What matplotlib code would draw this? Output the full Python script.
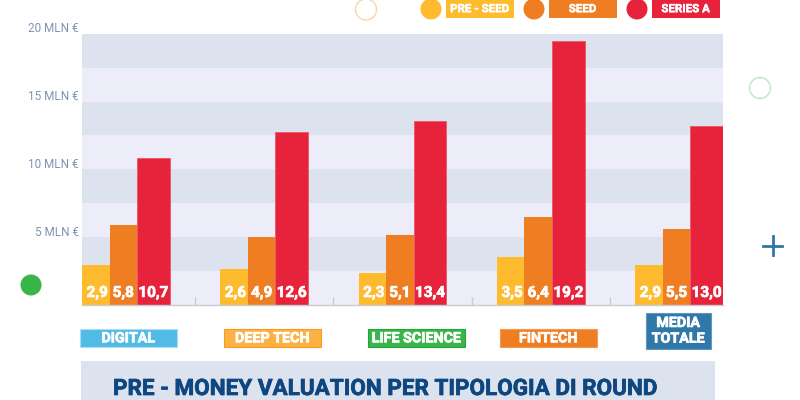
import matplotlib
matplotlib.use("Agg")
import matplotlib.pyplot as plt
from matplotlib.patches import Rectangle, Circle
import matplotlib.patheffects as pe

categories = ["DIGITAL", "DEEP TECH", "LIFE SCIENCE", "FINTECH", "MEDIA\nTOTALE"]
series_names = ["PRE - SEED", "SEED", "SERIES A"]
pre_seed = [2.9, 2.6, 2.3, 3.5, 2.9]
seed = [5.8, 4.9, 5.1, 6.4, 5.5]
series_a = [10.7, 12.6, 13.4, 19.2, 13.0]
y_ticks = [5, 10, 15, 20]
title = "PRE - MONEY VALUATION PER TIPOLOGIA DI ROUND"

RED, ORANGE, YELLOW = "#e6233a", "#ef7d22", "#fdbb2d"
DARK_BAND, LIGHT_BAND = "#dce3ee", "#ecedf8"
cat_colors = ["#50bbe5", "#fdb145", "#3ab54a", "#ef7d22", "#2f78a8"]
cat_edges = ["#a9def5", "#fb9a1f", "#1fa53a", "#f49a55", "#5f97bd"]
W, H = 800, 400
heavy_w = [pe.withStroke(linewidth=0.5, foreground="white")]

fig = plt.figure(figsize=(8, 4), dpi=100, facecolor="white")
plt.rcParams["font.family"] = ["Roboto", "DejaVu Sans"]

# full-figure pixel overlay for decorations and boxed labels
ov = fig.add_axes([0, 0, 1, 1], zorder=3)
ov.set_xlim(0, W); ov.set_ylim(H, 0); ov.axis("off"); ov.patch.set_alpha(0)

L, R, T, B = 82, 723, 34, 304.5
ax = fig.add_axes([L / W, 1 - B / H, (R - L) / W, (B - T) / H], zorder=1)
px_per_unit = 13.7
ymax = (B - T) / px_per_unit
step = 138.3
ax.set_xlim(0, (R - L) / step)
ax.set_ylim(0, ymax)

n_bands = 8
for i in range(n_bands):
    ax.axhspan(i * ymax / n_bands, (i + 1) * ymax / n_bands, lw=0,
               color=LIGHT_BAND if i % 2 == 0 else DARK_BAND, zorder=0)

w1, w2 = 0.199, 0.236
xs = list(range(len(categories)))
ax.bar([x for x in xs], pre_seed, width=w1, align="edge", color=YELLOW, zorder=2)
ax.bar([x + w1 for x in xs], seed, width=w1, align="edge", color=ORANGE, zorder=2)
ax.bar([x + 2 * w1 for x in xs], series_a, width=w2, align="edge", color=RED,
       edgecolor="#ee4a5c", lw=0.5, zorder=2)

fmt = lambda v: f"{v:.1f}".replace(".", ",")
for x, a, b, c in zip(xs, pre_seed, seed, series_a):
    for off, v in ((w1 * 0.55, a), (w1 * 1.5, b), (w1 * 2 + w2 / 2, c)):
        ax.text(x + off, 0.33, fmt(v), color="white", fontsize=11, fontweight="bold",
                ha="center", va="bottom", zorder=4, path_effects=heavy_w)

for s in ("top", "left", "right"):
    ax.spines[s].set_visible(False)
ax.spines["bottom"].set_color("#c9cbd3")
ax.spines["bottom"].set_linewidth(1)
ax.set_xticks([x + 0.817 for x in xs[:-1]])
ax.set_xticklabels([])
ax.tick_params(axis="x", direction="in", length=6, color="#c9cbd3", width=1)
ax.set_yticks([])

# y tick labels (positions measured in the reference)
for v, py in zip(y_ticks, [232, 165, 97, 28]):
    ov.text(79, py, f"{v} MLN €", color="#7d93b4", fontsize=8.5, ha="right", va="center")

# category boxes
boxes = [(79.5, 329, 97, 18), (223.5, 329, 97, 18), (367.5, 329, 97, 18),
         (499.5, 329, 97, 18), (645.5, 312.5, 65, 36)]
for cat, col, edge, (x, y, w, h) in zip(categories, cat_colors, cat_edges, boxes):
    ov.add_patch(Rectangle((x, y), w, h, fc=col, ec=edge, lw=0.8))
    ov.text(x + w / 2, y + h / 2 + 0.3, cat, color="white", fontsize=10.3, fontweight="bold",
            ha="center", va="center", linespacing=1.15, path_effects=heavy_w)

# title band
ov.add_patch(Rectangle((81, 361), 634, 39, fc=DARK_BAND, ec="none"))
ov.text(113, 389, title, color="#0e4680", fontsize=16.2, fontweight="bold", ha="left", va="center",
        path_effects=[pe.withStroke(linewidth=0.5, foreground="#0e4680")])

# legend
legend = [(431, 446, 68, YELLOW), (534, 549, 68, ORANGE), (637, 652, 68, RED)]
for name, (cx, bx, bw, col) in zip(series_names, legend):
    ov.add_patch(Circle((cx, 9), 10.5, fc=col, ec="none"))
    ov.add_patch(Rectangle((bx - 0.5, 0), bw, 18, fc=col, ec="none"))
    ov.text(bx - 0.5 + bw / 2, 8.7, name, color="white", fontsize=8.3, fontweight="bold",
            ha="center", va="center", path_effects=[pe.withStroke(linewidth=0.3, foreground="white")])

# decorations
ov.add_patch(Circle((366, 9.5), 10.5, fc="white", ec="#fbd5a8", lw=1))
ov.add_patch(Circle((760, 88), 10.5, fc="white", ec="#bfe5c4", lw=1))
ov.add_patch(Circle((31, 285), 10.5, fc="#3ab54a", ec="none"))
ov.plot([763, 782], [246, 246], color="#2f78a8", lw=2)
ov.plot([772.5, 772.5], [236, 255], color="#2f78a8", lw=2)

fig.savefig("out.png", dpi=100)
